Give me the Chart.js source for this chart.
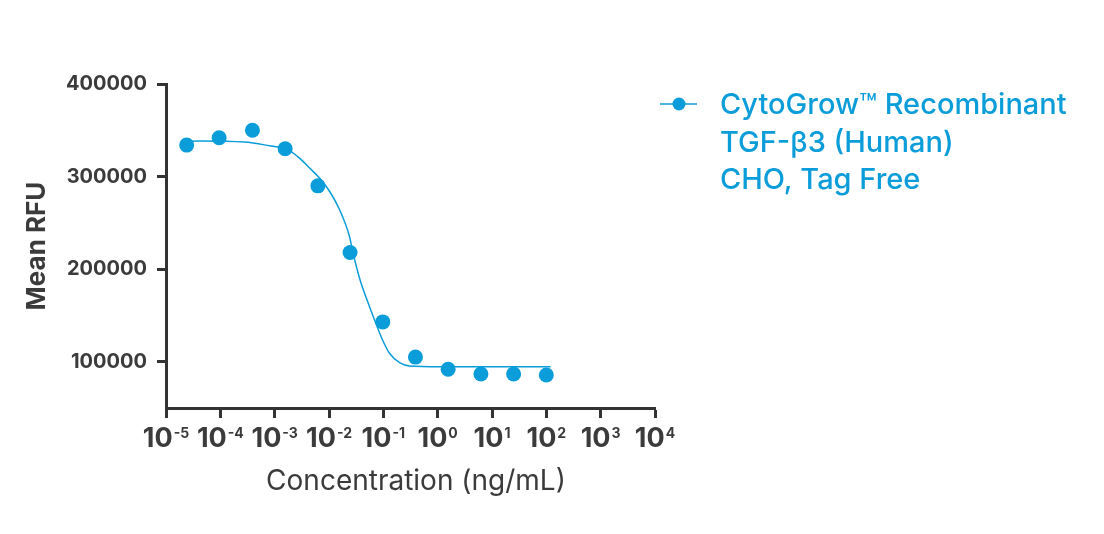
<!DOCTYPE html>
<html>
<head>
<meta charset="utf-8">
<title>Mean RFU vs Concentration</title>
<script src="https://cdn.jsdelivr.net/npm/chart.js@4.4.0/dist/chart.umd.min.js"></script>
<style>
	html, body { margin: 0; padding: 0; background: #fff; }
	#wrap { position: relative; width: 1104px; height: 534px; }
</style>
</head>
<body>
<div id="wrap"><canvas id="chartRfu" width="1104" height="534"></canvas></div>
<script>
// measured points (ng/mL, mean RFU)
const concentrations = [2.4e-5, 9.5e-5, 3.9e-4, 1.56e-3, 6.25e-3, 0.0244, 0.0977, 0.39, 1.56, 6.25, 25, 100];
const meanRfu = [334000, 342000, 350000, 330000, 290000, 218000, 143000, 105000, 91800, 86700, 86700, 85600];

// fitted curve
const fitX = [2.4e-5, 4.1e-5, 2.8e-4, 8.0e-4, 1.66e-3, 2.87e-3, 4.4e-3, 6.7e-3, 0.0103, 0.0157, 0.0239, 0.0271, 0.0365, 0.0557, 0.075, 0.0967, 0.13, 0.199, 0.303, 1.09, 120];
const fitY = [337900, 338500, 337300, 333300, 329700, 320000, 309200, 298400, 283900, 264100, 235000, 220000, 190200, 159500, 139700, 123500, 109100, 98900, 95400, 94600, 94600];

const xTickExponents = [-5, -4, -3, -2, -1, 0, 1, 2, 3, 4];
const yTicks = [100000, 200000, 300000, 400000];
const legendLines = ["CytoGrow™ Recombinant", "TGF-β3 (Human)", "CHO, Tag Free"];

const blue = "#0a9dd9";
const axisColor = "#333333";
const textColor = "#3b3b3b";

const labelsPlugin = {
	id: "labelsPlugin",
	afterDraw: (chart) => {
		const ctx = chart.ctx;
		const xScale = chart.scales.x;
		ctx.save();
		// x tick labels: 10 with exponent
		ctx.fillStyle = textColor;
		ctx.textBaseline = "alphabetic";
		ctx.textAlign = "left";
		xTickExponents.forEach((e) => {
			const px = xScale.getPixelForValue(Math.pow(10, e));
			ctx.font = "bold 27px Inter";
			const w1 = ctx.measureText("10").width;
			ctx.font = "bold 14px Inter";
			const expText = String(e);
			const w2 = ctx.measureText(expText).width;
			const start = px - (w1 + 1 + w2) / 2;
			ctx.font = "bold 27px Inter";
			ctx.fillText("10", start, 447);
			ctx.font = "bold 14px Inter";
			ctx.fillText(expText, start + w1 + 1, 438);
		});

		// x title
		ctx.font = "28px Inter";
		ctx.textAlign = "center";
		ctx.fillStyle = textColor;
		ctx.fillText("Concentration (ng/mL)", 416, 490);

		// y title
		ctx.save();
		ctx.translate(45, 246);
		ctx.rotate(-Math.PI / 2);
		ctx.font = "bold 26px Inter";
		ctx.fillText("Mean RFU", 0, 0);
		ctx.restore();

		// legend
		ctx.strokeStyle = blue;
		ctx.lineWidth = 1.5;
		ctx.beginPath();
		ctx.moveTo(660, 104);
		ctx.lineTo(697, 104);
		ctx.stroke();
		ctx.fillStyle = blue;
		ctx.beginPath();
		ctx.arc(679, 104, 6.5, 0, Math.PI * 2);
		ctx.fill();
		ctx.font = "500 29px Inter";
		ctx.textAlign = "left";
		legendLines.forEach((line, i) => {
			ctx.fillText(line, 720, 114 + i * 37.5);
		});
		ctx.restore();
	},
};

const ctx = document.getElementById("chartRfu");
const chart = new Chart(ctx, {
	type: "scatter",
	data: {
		datasets: [
			{
				label: legendLines.join(" "),
				data: concentrations.map((c, i) => ({ x: c, y: meanRfu[i] })),
				backgroundColor: blue,
				borderColor: blue,
				pointRadius: 7.5,
				pointBorderWidth: 0,
				showLine: false,
			},
			{
				label: "fit",
				data: fitX.map((c, i) => ({ x: c, y: fitY[i] })),
				borderColor: blue,
				borderWidth: 1.5,
				pointRadius: 0,
				showLine: true,
				cubicInterpolationMode: "monotone",
			},
		],
	},
	options: {
		responsive: false,
		animation: false,
		layout: { padding: { top: 84, right: 449, bottom: 0, left: 0 } },
		plugins: {
			legend: { display: false },
			tooltip: { enabled: false },
		},
		scales: {
			x: {
				type: "logarithmic",
				min: 1e-5,
				max: 1e4,
				afterBuildTicks: (scale) => {
					scale.ticks = xTickExponents.map((e) => ({ value: Math.pow(10, e) }));
				},
				afterFit: (scale) => {
					scale.height = 126;
				},
				ticks: { display: false },
				grid: {
					drawOnChartArea: false,
					drawTicks: true,
					tickLength: 10,
					tickWidth: 3,
					tickColor: axisColor,
				},
				border: { display: true, color: axisColor, width: 3 },
			},
			y: {
				min: 50000,
				max: 400000,
				afterBuildTicks: (scale) => {
					scale.ticks = yTicks.map((v) => ({ value: v }));
				},
				afterFit: (scale) => {
					scale.width = 166;
				},
				ticks: {
					color: textColor,
					padding: 10,
					font: { family: "Inter", size: 20, weight: "bold" },
					callback: (v) => String(v),
				},
				grid: {
					drawOnChartArea: false,
					drawTicks: true,
					tickLength: 9,
					tickWidth: 3,
					tickColor: axisColor,
				},
				border: { display: true, color: axisColor, width: 3 },
			},
		},
	},
	plugins: [labelsPlugin],
});
</script>
</body>
</html>
